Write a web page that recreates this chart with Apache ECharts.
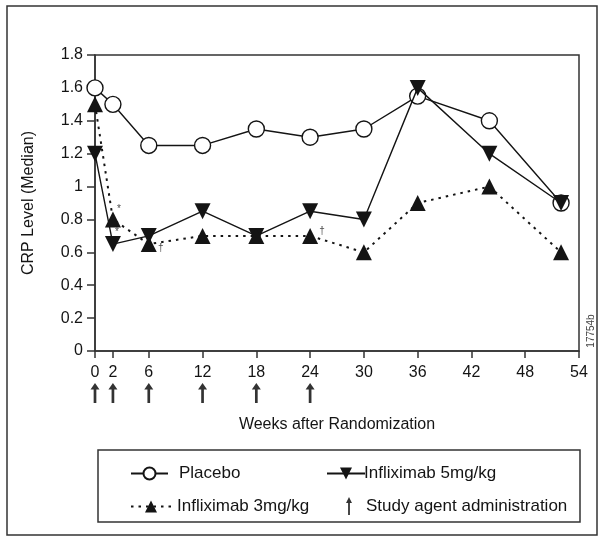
<!DOCTYPE html>
<html>
<head>
<meta charset="utf-8">
<script src="https://cdn.jsdelivr.net/npm/echarts@6/dist/echarts.min.js"></script>
<style>
  html, body { margin: 0; padding: 0; background: #fff; }
  #chart { width: 599px; height: 538px; }
</style>
</head>
<body>
<div id="chart"></div>
<script>
// data
const weeks = [0, 2, 6, 12, 18, 24, 30, 36, 44, 52]
const placebo = [1.6, 1.5, 1.25, 1.25, 1.35, 1.3, 1.35, 1.55, 1.4, 0.9]
const inflix5 = [1.2, 0.65, 0.7, 0.85, 0.7, 0.85, 0.8, 1.6, 1.2, 0.9]
const inflix3 = [1.5, 0.8, 0.65, 0.7, 0.7, 0.7, 0.6, 0.9, 1.0, 0.6]
const doseWeeks = [0, 2, 6, 12, 18, 24]
const xTicks = [0, 2, 6, 12, 18, 24, 30, 36, 42, 48, 54]
// significance marks on the 3mg/kg line: [week, value, mark, dx, dy]
const notes = [
  [2, 0.8, '*', 6, -10],
  [2, 0.8, '*', 4, 13],
  [6, 0.65, '†', 12, 4],
  [24, 0.7, '†', 12, -5]
]

const font = 'Liberation Sans, Arial, sans-serif'
const ink = '#141414'
const arrowPath = 'path://M5,0 L10,10 L6.5,10 L6.5,30 L3.5,30 L3.5,10 L0,10 Z'

const pair = (xs, ys) => xs.map((x, i) => [x, ys[i]])

let mychart = echarts.init(document.getElementById('chart'))
mychart.setOption({
  backgroundColor: '#fff',
  animation: false,
  textStyle: { fontFamily: font, color: ink },
  grid: {
    left: 95,
    top: 55,
    right: 20,
    bottom: 187,
    show: true,
    borderColor: '#333',
    borderWidth: 1.5
  },
  xAxis: {
    type: 'value',
    min: 0,
    max: 54,
    name: 'Weeks after Randomization',
    nameLocation: 'middle',
    nameGap: 66,
    nameTextStyle: { fontSize: 16, color: ink, fontFamily: font },
    splitLine: { show: false },
    axisLine: { lineStyle: { color: '#333', width: 1.5 } },
    axisTick: { length: 7, lineStyle: { color: '#333', width: 1.5 }, customValues: xTicks },
    axisLabel: { fontSize: 16, color: ink, margin: 14, customValues: xTicks, fontFamily: font }
  },
  yAxis: {
    type: 'value',
    min: 0,
    max: 1.8,
    interval: 0.2,
    name: 'CRP Level (Median)',
    nameLocation: 'middle',
    nameGap: 58,
    nameTextStyle: { fontSize: 16, color: ink, fontFamily: font },
    splitLine: { show: false },
    axisLine: { show: true, lineStyle: { color: '#333', width: 1.5 } },
    axisTick: { show: true, length: 8, lineStyle: { color: '#333', width: 1.5 } },
    axisLabel: { fontSize: 16, color: ink, margin: 12, fontFamily: font }
  },
  legend: [
    { data: ['Placebo'], left: 125, top: 460, itemWidth: 37, itemHeight: 15,
      textStyle: { fontSize: 17, color: ink, fontFamily: font, padding: [0, 0, 0, 6] } },
    { data: ['Infliximab 5mg/kg'], left: 321, top: 460, itemWidth: 38, itemHeight: 15,
      textStyle: { fontSize: 17, color: ink, fontFamily: font, padding: [0, 0, 0, -6] } },
    { data: ['Infliximab 3mg/kg'], left: 125, top: 493, itemWidth: 40, itemHeight: 15,
      textStyle: { fontSize: 17, color: ink, fontFamily: font, padding: [0, 0, 0, 1] } },
    { data: ['Study agent administration'], left: 341, top: 492, itemWidth: 8, itemHeight: 18,
      textStyle: { fontSize: 17, color: ink, fontFamily: font, padding: [0, 0, 0, 8] } }
  ],
  graphic: [
    { type: 'rect', shape: { x: 7, y: 6, width: 590, height: 529 },
      style: { fill: 'none', stroke: '#333', lineWidth: 1.5 }, silent: true },
    { type: 'rect', shape: { x: 98, y: 450, width: 482, height: 72 },
      style: { fill: 'none', stroke: '#333', lineWidth: 1.5 }, silent: true },
    { type: 'text', x: 591, y: 331, rotation: Math.PI / 2,
      style: { text: '17754b', fontSize: 10, fill: '#444', font: '10px ' + font,
        align: 'center', verticalAlign: 'middle' } }
  ],
  series: [
    {
      name: 'Placebo',
      type: 'line',
      data: pair(weeks, placebo),
      symbol: 'circle',
      symbolSize: 16,
      z: 3,
      lineStyle: { color: ink, width: 1.4 },
      itemStyle: { color: '#fff', borderColor: ink, borderWidth: 1.4 }
    },
    {
      name: 'Infliximab 5mg/kg',
      type: 'line',
      data: pair(weeks, inflix5),
      symbol: 'triangle',
      symbolRotate: 180,
      symbolSize: 16,
      z: 4,
      lineStyle: { color: ink, width: 1.4 },
      itemStyle: { color: ink }
    },
    {
      name: 'Infliximab 3mg/kg',
      type: 'line',
      data: pair(weeks, inflix3),
      symbol: 'triangle',
      symbolSize: 16,
      z: 4,
      lineStyle: { color: ink, width: 2, type: [2.5, 5] },
      itemStyle: { color: ink }
    },
    {
      name: 'Study agent administration',
      type: 'scatter',
      clip: false,
      data: doseWeeks.map(w => [w, -0.255]),
      symbol: arrowPath,
      symbolSize: [9, 20],
      itemStyle: { color: '#000' }
    },
    {
      name: 'notes',
      type: 'scatter',
      clip: false,
      silent: true,
      symbolSize: 0,
      data: notes.map(n => ({ value: [n[0], n[1]], label: { offset: [n[3], n[4]] }, mark: n[2] })),
      label: {
        show: true,
        position: 'inside',
        fontSize: 10,
        color: ink,
        fontFamily: font,
        formatter: p => p.data.mark
      }
    }
  ]
})
</script>
</body>
</html>
